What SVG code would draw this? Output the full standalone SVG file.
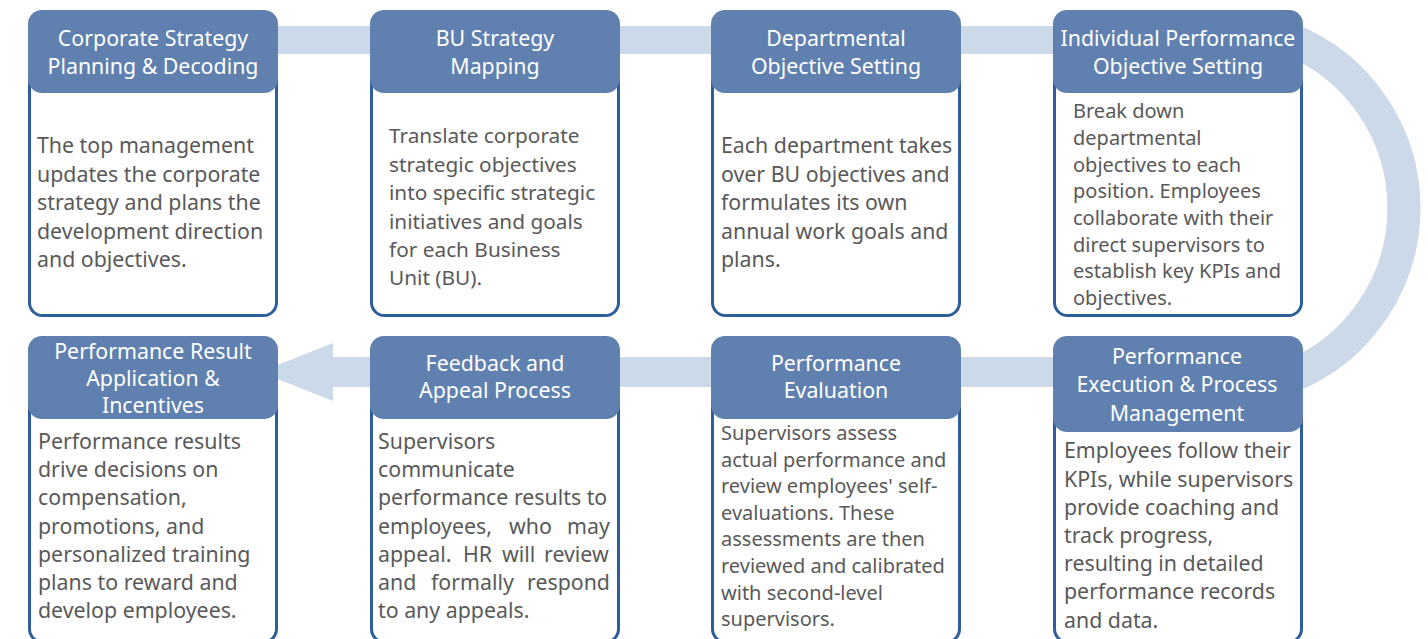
<svg xmlns="http://www.w3.org/2000/svg" width="1428" height="639" viewBox="0 0 1428 639">
<style>
.band{fill:#cbd9e9}
.arc{fill:none;stroke:#cbd9e9;stroke-width:33}
.body{fill:#fff;stroke:#2f5f9a;stroke-width:3}
.hdr{fill:#6080b0}
.ht{font-family:"Noto Sans","Open Sans",sans-serif;font-size:21.33px;fill:#fff;text-anchor:middle}
.bt{font-family:"Noto Sans","Open Sans",sans-serif;font-size:21.33px;fill:#595959}
.bs{font-size:20px}
.bm{font-size:20.8px}
</style>
<rect width="1428" height="639" fill="#fff"/>
<g id="connectors">
<rect class="band" x="200" y="26" width="900" height="28"/>
<path class="arc" d="M 1290 39.2 A 182 182 0 0 1 1290 376.8"/>
<rect class="band" x="332" y="357" width="760" height="30"/>
<polygon class="band" points="333,343 260,372 333,401"/>
</g>
<g id="n1">
<rect class="body" x="29.5" y="60" width="247" height="255.5" rx="13"/>
<rect class="hdr" x="28" y="10" width="250" height="83" rx="14"/>
<text class="ht"><tspan x="153" y="45.5">Corporate Strategy</tspan><tspan x="153" y="73.8">Planning &amp; Decoding</tspan></text>
<text class="bt"><tspan x="37" y="153.3">The top management</tspan><tspan x="37" y="181.7">updates the corporate</tspan><tspan x="37" y="210.1">strategy and plans the</tspan><tspan x="37" y="238.5">development direction</tspan><tspan x="37" y="266.9">and objectives.</tspan></text>
</g>
<g id="n2">
<rect class="body" x="371.5" y="60" width="247" height="255.5" rx="13"/>
<rect class="hdr" x="370" y="10" width="250" height="83" rx="14"/>
<text class="ht"><tspan x="495" y="45.5">BU Strategy</tspan><tspan x="495" y="73.8">Mapping</tspan></text>
<text class="bt bm"><tspan x="389" y="143.3">Translate corporate</tspan><tspan x="389" y="171.7">strategic objectives</tspan><tspan x="389" y="200.1">into specific strategic</tspan><tspan x="389" y="228.5">initiatives and goals</tspan><tspan x="389" y="256.9">for each Business</tspan><tspan x="389" y="285.3">Unit (BU).</tspan></text>
</g>
<g id="n3">
<rect class="body" x="712.5" y="60" width="247" height="255.5" rx="13"/>
<rect class="hdr" x="711" y="10" width="250" height="83" rx="14"/>
<text class="ht"><tspan x="836" y="45.5">Departmental</tspan><tspan x="836" y="73.8">Objective Setting</tspan></text>
<text class="bt"><tspan x="721" y="153.3">Each department takes</tspan><tspan x="721" y="181.7">over BU objectives and</tspan><tspan x="721" y="210.1">formulates its own</tspan><tspan x="721" y="238.5">annual work goals and</tspan><tspan x="721" y="266.9">plans.</tspan></text>
</g>
<g id="n4">
<rect class="body" x="1054.5" y="60" width="247" height="255.5" rx="13"/>
<rect class="hdr" x="1053" y="10" width="250" height="83" rx="14"/>
<text class="ht"><tspan x="1178" y="45.5">Individual Performance</tspan><tspan x="1178" y="73.8">Objective Setting</tspan></text>
<text class="bt bs"><tspan x="1073" y="118.3">Break down</tspan><tspan x="1073" y="145">departmental</tspan><tspan x="1073" y="171.7">objectives to each</tspan><tspan x="1073" y="198.3">position. Employees</tspan><tspan x="1073" y="225">collaborate with their</tspan><tspan x="1073" y="251.7">direct supervisors to</tspan><tspan x="1073" y="278.3">establish key KPIs and</tspan><tspan x="1073" y="305">objectives.</tspan></text>
</g>
<g id="n5">
<rect class="body" x="29.5" y="380" width="247" height="262" rx="13"/>
<rect class="hdr" x="28" y="336" width="250" height="83" rx="14"/>
<text class="ht"><tspan x="153" y="359">Performance Result</tspan><tspan x="153" y="386">Application &amp;</tspan><tspan x="153" y="413">Incentives</tspan></text>
<text class="bt"><tspan x="38" y="449">Performance results</tspan><tspan x="38" y="477.2">drive decisions on</tspan><tspan x="38" y="505.4">compensation,</tspan><tspan x="38" y="533.6">promotions, and</tspan><tspan x="38" y="561.8">personalized training</tspan><tspan x="38" y="590">plans to reward and</tspan><tspan x="38" y="618.2">develop employees.</tspan></text>
</g>
<g id="n6">
<rect class="body" x="371.5" y="380" width="247" height="262" rx="13"/>
<rect class="hdr" x="370" y="336" width="250" height="83" rx="14"/>
<text class="ht"><tspan x="495" y="370.7">Feedback and</tspan><tspan x="495" y="398.3">Appeal Process</tspan></text>
<text class="bt"><tspan x="378" y="449">Supervisors</tspan><tspan x="378" y="477.2">communicate</tspan><tspan x="378" y="505.4">performance results to</tspan><tspan x="378" y="533.6">employees,</tspan><tspan x="509" y="533.6">who</tspan><tspan x="567" y="533.6">may</tspan><tspan x="378" y="561.8">appeal.</tspan><tspan x="463" y="561.8">HR</tspan><tspan x="502" y="561.8">will</tspan><tspan x="544" y="561.8">review</tspan><tspan x="378" y="590">and</tspan><tspan x="431" y="590">formally</tspan><tspan x="527" y="590">respond</tspan><tspan x="378" y="618.2">to any appeals.</tspan></text>
</g>
<g id="n7">
<rect class="body" x="712.5" y="380" width="247" height="262" rx="13"/>
<rect class="hdr" x="711" y="336" width="250" height="83" rx="14"/>
<text class="ht"><tspan x="836" y="370.7">Performance</tspan><tspan x="836" y="398.3">Evaluation</tspan></text>
<text class="bt bs"><tspan x="721" y="440">Supervisors assess</tspan><tspan x="721" y="466.6">actual performance and</tspan><tspan x="721" y="493.2">review employees' self-</tspan><tspan x="721" y="519.8">evaluations. These</tspan><tspan x="721" y="546.4">assessments are then</tspan><tspan x="721" y="573">reviewed and calibrated</tspan><tspan x="721" y="599.6">with second-level</tspan><tspan x="721" y="626.2">supervisors.</tspan></text>
</g>
<g id="n8">
<rect class="body" x="1054.5" y="390" width="247" height="252" rx="13"/>
<rect class="hdr" x="1053" y="336" width="250" height="96" rx="14"/>
<text class="ht"><tspan x="1177" y="364.3">Performance</tspan><tspan x="1177" y="392.3">Execution &amp; Process</tspan><tspan x="1177" y="420.5">Management</tspan></text>
<text class="bt"><tspan x="1064" y="458.3">Employees follow their</tspan><tspan x="1064" y="486.5">KPIs, while supervisors</tspan><tspan x="1064" y="514.7">provide coaching and</tspan><tspan x="1064" y="542.9">track progress,</tspan><tspan x="1064" y="571.1">resulting in detailed</tspan><tspan x="1064" y="599.3">performance records</tspan><tspan x="1064" y="627.5">and data.</tspan></text>
</g>
</svg>
